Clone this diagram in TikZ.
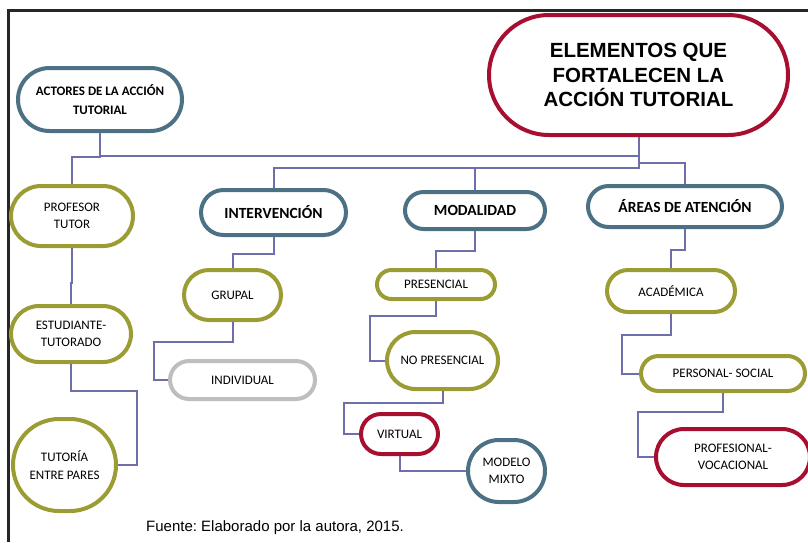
\documentclass[tikz,border=0pt]{standalone}
\usepackage{fontspec}
\usepackage{tikz}
\usepackage{xcolor}
\usetikzlibrary{positioning, calc}
\setmainfont{Carlito}
\newfontfamily\arialfont{Liberation Sans}
\frenchspacing

\definecolor{tealline}{RGB}{76,113,133}
\definecolor{oliveline}{RGB}{156,156,52}
\definecolor{redline}{RGB}{167,14,48}
\definecolor{greyline}{RGB}{190,190,190}
\definecolor{linkline}{RGB}{110,110,172}

\begin{document}
\begin{tikzpicture}[
    x=1pt, y=-1pt,
    block/.style={rectangle, draw, fill=white, line width=4pt, align=center, inner sep=2pt, font=\fontsize{13}{17.5}\selectfont},
    pill/.style 2 args={minimum width=#1, minimum height=#2, rounded corners=0.5*#2},
    head/.style={font=\bfseries\fontsize{15.5}{18}\selectfont},
    tealbox/.style={draw=tealline},
    olivebox/.style={draw=oliveline},
    redbox/.style={draw=redline},
    greybox/.style={draw=greyline},
    link/.style={draw=linkline, line width=2pt}
]
\useasboundingbox (0,0) rectangle (808,542);

% Frame
\draw[line width=2.5pt, black!85] (8.5,542) -- (8.5,10.5) -- (808,10.5);

% Title
\node[block, redbox, pill={299pt}{120pt}, font=\arialfont\bfseries\fontsize{20.5}{24.5}\selectfont] (elem) at (638.5,75) {ELEMENTOS QUE\\FORTALECEN LA\\ACCIÓN TUTORIAL};

% Actors
\node[block, tealbox, pill={164pt}{63pt}, font=\bfseries\fontsize{13}{18.3}\selectfont] (act) at (100,99.5) {ACTORES DE LA ACCIÓN\\TUTORIAL};
\node[block, olivebox, pill={122pt}{60pt}, below=51pt of act, xshift=-28pt] (prof) {PROFESOR\\TUTOR};
\node[block, olivebox, pill={120pt}{56pt}, below=56pt of prof, xshift=-1pt] (est) {ESTUDIANTE-\\TUTORADO};
\node[block, olivebox, pill={103pt}{92pt}, below=53pt of est, xshift=-6.5pt] (tut) {TUTORÍA\\ENTRE PARES};

% Intervention
\node[block, tealbox, head, pill={145pt}{45pt}, right=64pt of prof, yshift=3.5pt] (int) {INTERVENCIÓN};
\node[block, olivebox, pill={97pt}{50pt}, below=31pt of int, xshift=-41pt] (grup) {GRUPAL};
\node[block, greybox, pill={145pt}{38pt}, below=37pt of grup, xshift=10pt] (indiv) {INDIVIDUAL};

% Modality
\node[block, tealbox, head, pill={140pt}{37pt}, right=55pt of int, yshift=2pt] (mod) {MODALIDAD};
\node[block, olivebox, pill={118pt}{29pt}, below=37pt of mod, xshift=-39pt] (pres) {PRESENCIAL};
\node[block, olivebox, pill={111pt}{57pt}, below=29pt of pres, xshift=6.5pt] (nopres) {NO PRESENCIAL};
\node[block, redbox, pill={77pt}{40pt}, below=21pt of nopres, xshift=-43pt] (virt) {VIRTUAL};
\node[block, tealbox, pill={77pt}{62pt}, right=26pt of virt, yshift=-37pt] (mixto) {MODELO\\MIXTO};

% Areas
\node[block, tealbox, head, pill={194pt}{41pt}, right=39pt of mod, yshift=4pt] (areas) {ÁREAS DE ATENCIÓN};
\node[block, olivebox, pill={128pt}{42pt}, below=39pt of areas, xshift=-14pt] (acad) {ACADÉMICA};
\node[block, olivebox, pill={164pt}{35pt}, below=40pt of acad, xshift=52pt] (pers) {PERSONAL- SOCIAL};
\node[block, redbox, pill={154pt}{56pt}, below=34pt of pers, xshift=10pt] (profv) {PROFESIONAL-\\VOCACIONAL};

% Source
\node[anchor=base west, inner sep=0pt, font=\arialfont\fontsize{15}{18}\selectfont] (src) at (146,531) {Fuente: Elaborado por la autora, 2015.};

% Links
\draw[link] (elem.south) -- ++(0,19) -| (act.south);
\draw[link] (elem.south) -- ++(0,31) -| (int.north);
\draw[link] (elem.south) -- ++(0,31) -| (mod.north);
\draw[link] (elem.south) -- ++(0,26) -| (areas.north);
\draw[link] (act.south) -- ++(0,24) -| (prof.north);
\draw[link] (prof.south) -- ++(0,35) -| (est.north);
\draw[link] (est.south) -- ++(0,27) -| ([xshift=19pt]tut.east) -- (tut.east);
\draw[link] (int.south) -- ++(0,17) -| (grup.north);
\draw[link] (grup.south) -- ++(0,20) -| ([xshift=-14pt]indiv.west) -- (indiv.west);
\draw[link] (mod.south) -- ++(0,20) -| (pres.north);
\draw[link] (pres.south) -- ++(0,15) -| ([xshift=-15pt]nopres.west) -- (nopres.west);
\draw[link] (nopres.south) -- ++(0,12) -| ([xshift=-15pt]virt.west) -- (virt.west);
\draw[link] (virt.south) |- (mixto.west);
\draw[link] (areas.south) -- ++(0,21) -| (acad.north);
\draw[link] (acad.south) -- ++(0,21) -| ([xshift=-17pt]pers.west) -- (pers.west);
\draw[link] (pers.south) -- ++(0,19) -| ([xshift=-16pt]profv.west) -- (profv.west);

\end{tikzpicture}
\end{document}
